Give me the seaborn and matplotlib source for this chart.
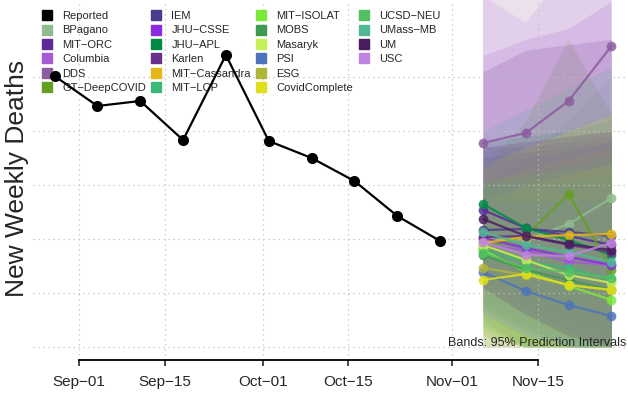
import numpy as np
import pandas as pd
import matplotlib
matplotlib.use("Agg")
import matplotlib.pyplot as plt
import matplotlib.dates as mdates
from matplotlib.lines import Line2D
import seaborn as sns

# reported weekly deaths
obs_dates = ["2020-08-28", "2020-09-04", "2020-09-11", "2020-09-18", "2020-09-25",
             "2020-10-02", "2020-10-09", "2020-10-16", "2020-10-23", "2020-10-30"]
obs_deaths = [5019, 4463, 4556, 3833, 5407, 3815, 3500, 3074, 2426, 1963]

# forecast targets
fc_dates = ["2020-11-06", "2020-11-13", "2020-11-20", "2020-11-27"]

models = ["BPagano", "MIT-ORC", "Columbia", "DDS", "GT-DeepCOVID", "IEM", "JHU-CSSE",
          "JHU-APL", "Karlen", "MIT-Cassandra", "MIT-LCP", "MIT-ISOLAT", "MOBS",
          "Masaryk", "PSI", "ESG", "CovidComplete", "UCSD-NEU", "UMass-MB", "UM", "USC"]
colors = ["#8fbc8f", "#5a2a9c", "#a65ad6", "#8b5ca0", "#63a021", "#473d8b", "#8a2be2",
          "#008b45", "#6b2e8f", "#e6b817", "#3cb976", "#7ce83a", "#3e9a4e",
          "#c6ef55", "#4d74b9", "#aeb53a", "#dde01a", "#51c063", "#50b897", "#4a1d5e", "#c083e0"]

median = [
    [1981, 1981, 2278, 2759],
    [2537, 2204, 2056, 1889],
    [1889, 1796, 1574, 1519],
    [3778, 3963, 4556, 5574],
    [1833, 2056, 2833, 1426],
    [2167, 2185, 2130, 2056],
    [2019, 1833, 1667, 1519],
    [2648, 2204, 1981, 1704],
    [2037, 2056, 1889, 1759],
    [1926, 2037, 2074, 2093],
    [1796, 1574, 1463, 1241],
    [1796, 1389, 1130, 870],
    [1704, 1426, 1241, 1056],
    [1889, 1611, 1333, 1185],
    [1389, 1037, 778, 574],
    [1463, 1333, 1148, 1056],
    [1241, 1352, 1148, 1056],
    [1741, 1463, 1389, 1278],
    [2130, 1889, 1759, 1574],
    [2370, 2056, 1907, 1796],
    [1944, 1704, 1685, 1926],
]
lower = [
    [900, 500, 200, 0],
    [1500, 1000, 600, 300],
    [700, 300, 0, 0],
    [2700, 2600, 2700, 3000],
    [0, 0, 0, 0],
    [1200, 800, 500, 300],
    [1000, 600, 300, 0],
    [1300, 700, 300, 0],
    [800, 400, 0, 0],
    [700, 400, 200, 0],
    [500, 0, 0, 0],
    [300, 0, 0, 0],
    [400, 0, 0, 0],
    [600, 100, 0, 0],
    [200, 0, 0, 0],
    [0, 0, 0, 0],
    [200, 0, 0, 0],
    [700, 300, 0, 0],
    [600, 200, 0, 0],
    [1100, 600, 200, 0],
    [600, 200, 0, 0],
]
upper = [
    [3000, 3500, 4200, 5000],
    [3700, 3700, 3800, 3900],
    [5400, 5700, 5900, 6400],
    [8300, 9200, 10100, 12000],
    [3300, 4200, 5700, 4300],
    [3500, 3600, 3700, 3800],
    [3400, 3500, 3600, 3800],
    [3800, 3900, 4000, 4200],
    [5100, 5500, 5600, 5700],
    [3300, 3700, 4000, 4300],
    [3000, 3100, 3300, 3500],
    [3100, 3200, 3300, 3300],
    [3100, 3200, 3400, 3600],
    [3400, 3700, 4000, 4300],
    [2700, 2700, 2700, 2800],
    [3000, 3300, 3500, 3700],
    [2700, 3000, 3200, 3400],
    [3000, 3000, 3100, 3200],
    [4000, 4400, 4800, 5200],
    [3700, 3800, 3900, 4000],
    [6500, 6000, 7000, 7500],
]

tick_dates = ["2020-09-01", "2020-09-15", "2020-10-01", "2020-10-15", "2020-11-01", "2020-11-15"]
tick_labels = ["Sep\u221201", "Sep\u221215", "Oct\u221201", "Oct\u221215", "Nov\u221201", "Nov\u221215"]
grid_y = [0, 1000, 2000, 3000, 4000, 5000]

sns.set_style("white")
plt.rcParams["font.family"] = ["Liberation Sans", "DejaVu Sans"]

fig = plt.figure(figsize=(6.28, 3.96), dpi=100)
ax = fig.add_axes([33 / 628, 36 / 396, 595 / 628, 360 / 396])

obs = pd.DataFrame({"date": pd.to_datetime(obs_dates), "deaths": obs_deaths})
fc_x = pd.to_datetime(fc_dates)
rows = []
for m, med in zip(models, median):
    for d, v in zip(fc_x, med):
        rows.append({"date": d, "deaths": v, "model": m})
fc = pd.DataFrame(rows)

# grid
for d in pd.to_datetime(tick_dates):
    ax.axvline(d, color="#c0c0c0", lw=0.9, ls=(0, (1, 3)), zorder=2)
for y in grid_y:
    ax.axhline(y, color="#c0c0c0", lw=0.9, ls=(0, (1, 3)), zorder=2)

# prediction bands
for c, lo, hi in zip(colors, lower, upper):
    ax.fill_between(fc_x, lo, hi, color=c, alpha=0.18, lw=0, zorder=1)

sns.lineplot(data=fc, x="date", y="deaths", hue="model", palette=dict(zip(models, colors)),
             hue_order=models, marker="o", markersize=7, markeredgewidth=0, linewidth=1.6,
             alpha=0.85, legend=False, ax=ax, zorder=4)
sns.lineplot(data=obs, x="date", y="deaths", color="black", marker="o", markersize=8,
             markeredgewidth=0, linewidth=1.6, legend=False, ax=ax, zorder=5)

x0 = pd.Timestamp("2020-09-01")
ax.set_xlim(x0 - pd.Timedelta(days=7.52), x0 + pd.Timedelta(days=89.7))
ax.set_ylim(-241, 6426)

for s in ["top", "right", "left"]:
    ax.spines[s].set_visible(False)
tick_num = mdates.date2num(pd.to_datetime(tick_dates))
ax.spines["bottom"].set_bounds(tick_num[0], tick_num[-1])
ax.spines["bottom"].set_linewidth(1.3)
ax.spines["bottom"].set_color("black")
ax.set_xticks(tick_num)
ax.set_xticklabels(tick_labels, fontsize=11)
ax.tick_params(axis="x", direction="out", length=4, width=1.2, pad=7, bottom=True)
ax.set_yticks([])
ax.set_xlabel("")
ax.set_ylabel("")
fig.text(17 / 628, 1 - 178 / 396, "New Weekly Deaths", rotation=90, fontsize=19,
         ha="center", va="center")

fig.text(0.997, 1 - 343 / 396, "Bands: 95% Prediction Intervals",
         ha="right", va="center", fontsize=9, zorder=6)

# legend: 6 rows, last column holds 4 entries
handles = [Line2D([], [], ls="", marker="s", markersize=6.5, color="black")]
handles += [Line2D([], [], ls="", marker="s", markersize=6.5, color=c) for c in colors]
labels = ["Reported"] + [m.replace("-", "\u2212") for m in models]
order = labels[:18] + ["UCSD\u2212NEU", "UMass\u2212MB", "UM", "USC"]
hmap = dict(zip(labels, handles))
leg_h = [hmap[l] for l in order] + [Line2D([], [], ls="")] * 2
leg_l = order + ["", ""]
leg = ax.legend(leg_h, leg_l, ncol=4, loc="upper left", frameon=False, fontsize=8,
                bbox_to_anchor=(41.5 / 628, 1 - 11 / 396), bbox_transform=fig.transFigure,
                borderaxespad=0, borderpad=0, handlelength=1.0, handletextpad=0.85,
                labelspacing=0.4, columnspacing=0.45)
leg.set_zorder(3)

fig.savefig("out.png", dpi=100)
